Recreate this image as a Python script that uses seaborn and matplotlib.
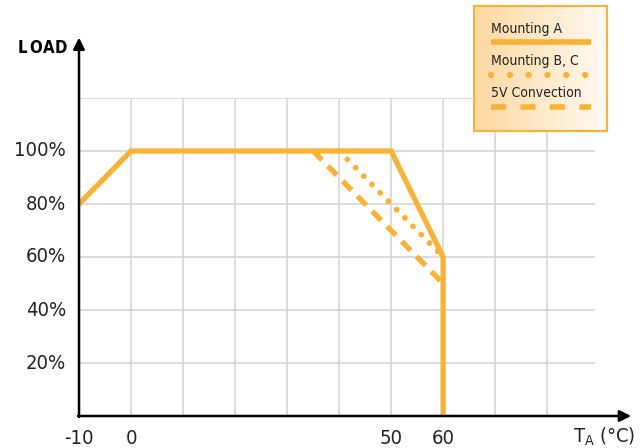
import numpy as np
import matplotlib
matplotlib.use('Agg')
import matplotlib.pyplot as plt
import seaborn as sns

# Derating curves
temp_a = [-10, 0, 50, 60, 60]
load_a = [80, 100, 100, 60, 0]
temp_bc = [40, 60]
load_bc = [100, 60]
temp_5v = [35, 60]
load_5v = [100, 50]

x_ticks = [-10, 0, 50, 60]
y_ticks = [20, 40, 60, 80, 100]
legend_labels = ['Mounting A', 'Mounting B, C', '5V Convection']

orange = '#F9B233'

sns.set_style('whitegrid')
plt.rcParams['font.family'] = ['DejaVu Sans']
plt.rcParams['font.stretch'] = 'condensed'

fig = plt.figure(figsize=(6.42, 4.48), dpi=100)
ax = fig.add_axes([79 / 642, 32 / 448, 516 / 642, 318 / 448])

sns.lineplot(x=temp_a, y=load_a, sort=False, estimator=None, color=orange,
             lw=3.8, ax=ax, solid_joinstyle='miter')
sns.lineplot(x=temp_bc, y=load_bc, sort=False, estimator=None, color=orange,
             lw=4.2, ax=ax, linestyle=(0, (0.01, 2.0)), dash_capstyle='round')
sns.lineplot(x=temp_5v, y=load_5v, sort=False, estimator=None, color=orange,
             lw=3.8, ax=ax, linestyle=(0, (2.4, 1.6)))

ax.set_xlim(-10, 89.2)
ax.set_ylim(0, 120)
ax.set_xticks(np.arange(-10, 90, 10))
ax.set_yticks(np.arange(0, 121, 20))
ax.grid(True, color='#d2d2d2', lw=1.1)
ax.tick_params(length=0, labelbottom=False, labelleft=False)
for s in ax.spines.values():
    s.set_visible(False)

for t in x_ticks:
    ax.text(t, -5, str(t), ha='center', va='top', fontsize=14.5, color='#222222')
for v in y_ticks:
    ax.text(-12.5, v, f'{v}%', ha='right', va='center', fontsize=14.5, color='#222222')

# axis arrows
ax.annotate('', xy=(1.07, 0), xytext=(-0.002, 0), xycoords='axes fraction',
            arrowprops=dict(arrowstyle='-|>', mutation_scale=17, lw=1.8, color='black',
                            shrinkA=0, shrinkB=0), annotation_clip=False)
ax.annotate('', xy=(0, 1.19), xytext=(0, -0.003), xycoords='axes fraction',
            arrowprops=dict(arrowstyle='-|>', mutation_scale=17, lw=1.8, color='black',
                            shrinkA=0, shrinkB=0), annotation_clip=False)

# letter-spaced bold axis title
for ch, px in zip('LOAD', [22, 35.5, 48.5, 61]):
    fig.text(px / 642, 1 - 48 / 448, ch, fontsize=12, fontweight='bold',
             ha='center', va='center', color='black')
fig.text(573 / 642, 1 - 437 / 448, r'T$_\mathregular{A}$ (°C)', fontsize=14.5,
         ha='left', va='center', color='#222222')

# legend box with gradient fill
lax = fig.add_axes([474 / 642, 1 - 131 / 448, 133 / 642, 125 / 448])
grad = np.linspace(0, 1, 256)[None, :, None]
c0 = np.array([253, 216, 160]) / 255
c1 = np.array([255, 250, 242]) / 255
img = c0 * (1 - grad) + c1 * grad
lax.imshow(img, extent=[0, 1, 0, 1], aspect='auto')
lax.set_xlim(0, 1)
lax.set_ylim(0, 1)
lax.set_xticks([])
lax.set_yticks([])
lax.grid(False)
for s in lax.spines.values():
    s.set_color(orange)
    s.set_linewidth(1.5)
    s.set_visible(True)

text_y = [0.82, 0.56, 0.305]
line_y = [0.71, 0.45, 0.195]
styles = [dict(lw=4.0), dict(lw=4.5, linestyle=(0, (0.01, 3.0)), dash_capstyle='round'),
          dict(lw=4.0, linestyle=(0, (2.7, 2.6)))]
for lbl, ty, ly, st in zip(legend_labels, text_y, line_y, styles):
    lax.text(0.13, ty, lbl, fontsize=10, color='#222222', ha='left', va='center')
    lax.plot([0.13, 0.88], [ly, ly], color=orange, solid_capstyle='butt', **st)

fig.savefig('out.png', dpi=100)
